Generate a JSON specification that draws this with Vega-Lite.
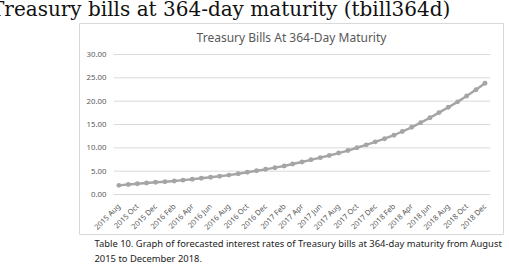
{
  "$schema": "https://vega.github.io/schema/vega-lite/v6.json",
  "width": 424,
  "height": 211,
  "autosize": {"type": "none"},
  "padding": {"left": 79, "top": 23, "right": 6, "bottom": 36},
  "background": "white",
  "title": {
    "text": "Treasury bills at 364-day maturity (tbill364d)",
    "anchor": "start",
    "frame": "group",
    "dx": -88,
    "offset": -13,
    "baseline": "alphabetic",
    "font": "DejaVu Serif",
    "fontSize": 20,
    "fontWeight": "normal",
    "color": "#111111"
  },
  "config": {
    "view": {"stroke": "#d9d9d9", "strokeWidth": 1},
    "font": "Noto Sans",
    "axisY": {
      "values": [0, 5, 10, 15, 20, 25, 30],
      "format": ".2f",
      "offset": -30,
      "labelPadding": 3,
      "labelOverlap": false,
      "ticks": false,
      "domain": false,
      "grid": false,
      "title": null,
      "labelColor": "#595959",
      "labelFontSize": 7.8
    }
  },
  "datasets": {
    "grid": [
      {"g": 0}, {"g": 5}, {"g": 10}, {"g": 15}, {"g": 20}, {"g": 25}, {"g": 30}
    ],
    "rates": [
      {"month": "2015/08/01", "rate": 1.96},
      {"month": "2015/09/01", "rate": 2.15},
      {"month": "2015/10/01", "rate": 2.32},
      {"month": "2015/11/01", "rate": 2.48},
      {"month": "2015/12/01", "rate": 2.62},
      {"month": "2016/01/01", "rate": 2.75},
      {"month": "2016/02/01", "rate": 2.9},
      {"month": "2016/03/01", "rate": 3.08},
      {"month": "2016/04/01", "rate": 3.28},
      {"month": "2016/05/01", "rate": 3.48},
      {"month": "2016/06/01", "rate": 3.7},
      {"month": "2016/07/01", "rate": 3.92},
      {"month": "2016/08/01", "rate": 4.16},
      {"month": "2016/09/01", "rate": 4.45},
      {"month": "2016/10/01", "rate": 4.76},
      {"month": "2016/11/01", "rate": 5.08},
      {"month": "2016/12/01", "rate": 5.4},
      {"month": "2017/01/01", "rate": 5.75},
      {"month": "2017/02/01", "rate": 6.12},
      {"month": "2017/03/01", "rate": 6.53},
      {"month": "2017/04/01", "rate": 6.97},
      {"month": "2017/05/01", "rate": 7.44},
      {"month": "2017/06/01", "rate": 7.9},
      {"month": "2017/07/01", "rate": 8.36},
      {"month": "2017/08/01", "rate": 8.88},
      {"month": "2017/09/01", "rate": 9.42},
      {"month": "2017/10/01", "rate": 10.02},
      {"month": "2017/11/01", "rate": 10.64},
      {"month": "2017/12/01", "rate": 11.28},
      {"month": "2018/01/01", "rate": 11.96},
      {"month": "2018/02/01", "rate": 12.7},
      {"month": "2018/03/01", "rate": 13.5},
      {"month": "2018/04/01", "rate": 14.4},
      {"month": "2018/05/01", "rate": 15.4},
      {"month": "2018/06/01", "rate": 16.45},
      {"month": "2018/07/01", "rate": 17.55},
      {"month": "2018/08/01", "rate": 18.7},
      {"month": "2018/09/01", "rate": 19.85},
      {"month": "2018/10/01", "rate": 21.1},
      {"month": "2018/11/01", "rate": 22.45},
      {"month": "2018/12/01", "rate": 23.85}
    ]
  },
  "layer": [
    {
      "data": {"name": "grid"},
      "mark": {"type": "rule", "color": "#d9d9d9", "strokeWidth": 1},
      "encoding": {
        "x": {
          "datum": {"year": 2015, "month": 7, "date": 15},
          "type": "temporal",
          "axis": null,
          "scale": {"domain": [{"year": 2015, "month": 3, "date": 21}, {"year": 2019, "month": 1, "date": 30}]}
        },
        "x2": {"datum": {"year": 2018, "month": 12, "date": 18}},
        "y": {
          "field": "g",
          "type": "quantitative",
          "scale": {"domain": [-8.46, 36.75], "nice": false, "zero": false},
          "axis": {"values": [0, 5, 10, 15, 20, 25, 30], "format": ".2f", "labelOverlap": false, "title": null}
        }
      }
    },
    {
      "data": {"name": "rates"},
      "mark": {"type": "line", "color": "#a5a5a5", "strokeWidth": 2.4},
      "encoding": {
        "x": {
          "field": "month",
          "type": "temporal",
          "scale": {"domain": [{"year": 2015, "month": 3, "date": 21}, {"year": 2019, "month": 1, "date": 30}]},
          "axis": {
            "orient": "bottom",
            "values": [
              {"year": 2015, "month": 8, "date": 1}, {"year": 2015, "month": 10, "date": 1}, {"year": 2015, "month": 12, "date": 1},
              {"year": 2016, "month": 2, "date": 1}, {"year": 2016, "month": 4, "date": 1}, {"year": 2016, "month": 6, "date": 1},
              {"year": 2016, "month": 8, "date": 1}, {"year": 2016, "month": 10, "date": 1}, {"year": 2016, "month": 12, "date": 1},
              {"year": 2017, "month": 2, "date": 1}, {"year": 2017, "month": 4, "date": 1}, {"year": 2017, "month": 6, "date": 1},
              {"year": 2017, "month": 8, "date": 1}, {"year": 2017, "month": 10, "date": 1}, {"year": 2017, "month": 12, "date": 1},
              {"year": 2018, "month": 2, "date": 1}, {"year": 2018, "month": 4, "date": 1}, {"year": 2018, "month": 6, "date": 1},
              {"year": 2018, "month": 8, "date": 1}, {"year": 2018, "month": 10, "date": 1}, {"year": 2018, "month": 12, "date": 1}
            ],
            "format": "%Y %b",
            "offset": -35,
            "labelAngle": -45,
            "labelAlign": "right",
            "labelBaseline": "middle",
            "labelPadding": 6,
            "labelFontSize": 7.5,
            "labelColor": "#595959",
            "labelOverlap": false,
            "labelBound": false,
            "labelFlush": false,
            "ticks": false,
            "domain": false,
            "grid": false,
            "title": [
              "Table 10. Graph of forecasted interest rates of Treasury bills at 364-day maturity from August",
              "2015 to December 2018."
            ],
            "titleX": 15,
            "titleY": 47,
            "titleAlign": "left",
            "titleAnchor": "start",
            "titleBaseline": "alphabetic",
            "titleFontSize": 9.4,
            "titleFontWeight": "normal",
            "titleColor": "#222222",
            "titleLineHeight": 15
          }
        },
        "y": {
          "field": "rate",
          "type": "quantitative",
          "scale": {"domain": [-8.46, 36.75], "nice": false, "zero": false},
          "axis": {"values": [0, 5, 10, 15, 20, 25, 30], "format": ".2f", "labelOverlap": false, "title": null}
        }
      }
    },
    {
      "data": {"name": "rates"},
      "mark": {"type": "point", "filled": true, "size": 24, "color": "#a5a5a5", "opacity": 1},
      "encoding": {
        "x": {
          "field": "month",
          "type": "temporal",
          "scale": {"domain": [{"year": 2015, "month": 3, "date": 21}, {"year": 2019, "month": 1, "date": 30}]},
          "axis": {
            "orient": "top",
            "labels": false,
            "ticks": false,
            "domain": false,
            "grid": false,
            "minExtent": 0,
            "title": "Treasury Bills At 364-Day Maturity",
            "titleY": 18,
            "titleBaseline": "alphabetic",
            "titleFontSize": 12,
            "titleFontWeight": "normal",
            "titleColor": "#595959"
          }
        },
        "y": {
          "field": "rate",
          "type": "quantitative",
          "scale": {"domain": [-8.46, 36.75], "nice": false, "zero": false},
          "axis": {"values": [0, 5, 10, 15, 20, 25, 30], "format": ".2f", "labelOverlap": false, "title": null}
        }
      }
    }
  ],
  "resolve": {"axis": {"x": "independent"}}
}
